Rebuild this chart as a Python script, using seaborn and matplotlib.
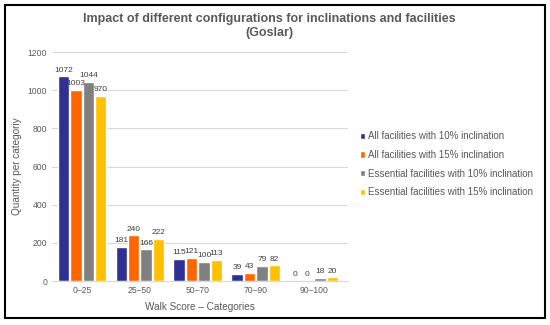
import numpy as np
import pandas as pd
import matplotlib
matplotlib.use("Agg")
import matplotlib.pyplot as plt
import seaborn as sns
from matplotlib.patches import Rectangle

categories = ["0–25", "25–50", "50–70", "70–90", "90–100"]
series = [
    "All facilities with 10% inclination",
    "All facilities with 15% inclination",
    "Essential facilities with 10% inclination",
    "Essential facilities with 15% inclination",
]
all_10 = [1072, 181, 115, 39, 0]
all_15 = [1003, 240, 121, 43, 0]
ess_10 = [1044, 166, 100, 79, 18]
ess_15 = [970, 222, 113, 82, 20]
colors = ["#2E3192", "#FF6600", "#808080", "#FFC000"]

rows = []
for name, vals in zip(series, [all_10, all_15, ess_10, ess_15]):
    for cat, v in zip(categories, vals):
        rows.append({"cat": cat, "series": name, "value": v})
df = pd.DataFrame(rows)

sns.set_style("white")
plt.rcParams["font.family"] = ["Liberation Sans", "DejaVu Sans"]

fig = plt.figure(figsize=(5.5, 3.25), dpi=100)
ax = fig.add_axes([0.0945, 0.135, 0.538, 0.705])

sns.barplot(data=df, x="cat", y="value", hue="series", palette=colors,
            width=0.86, gap=0.08, saturation=1, ax=ax, legend=True)

for cont in ax.containers:
    ax.bar_label(cont, fontsize=6, color="#404040", padding=2)

ax.set_ylim(0, 1200)
ax.set_yticks(range(0, 1201, 200))
ax.set_xlim(-0.52, 4.59)
ax.yaxis.grid(True, color="#D9D9D9", linewidth=0.8)
ax.set_axisbelow(True)
for s in ["top", "right", "left"]:
    ax.spines[s].set_visible(False)
ax.spines["bottom"].set_color("#D9D9D9")
ax.tick_params(axis="both", length=0, labelsize=6.2, colors="#595959")
ax.set_xlabel("Walk Score – Categories", fontsize=7.2, color="#595959", labelpad=5)
ax.set_ylabel("Quantity per categoriy", fontsize=7.2, color="#595959")

ax.legend(loc="center left", bbox_to_anchor=(1.01, 0.51), frameon=False,
          fontsize=7, handlelength=0.6, handleheight=0.6, handletextpad=0.3,
          labelspacing=0.9, labelcolor="#595959")

fig.suptitle("Impact of different configurations for inclinations and facilities\n(Goslar)",
             x=0.49, y=0.96, fontsize=9, fontweight="bold", color="#595959",
             linespacing=1.25)

fig.patches.append(Rectangle((0.009, 0.022), 0.982, 0.963, transform=fig.transFigure,
                             fill=False, edgecolor="black", linewidth=1.5))

fig.savefig("out.png", dpi=100)
